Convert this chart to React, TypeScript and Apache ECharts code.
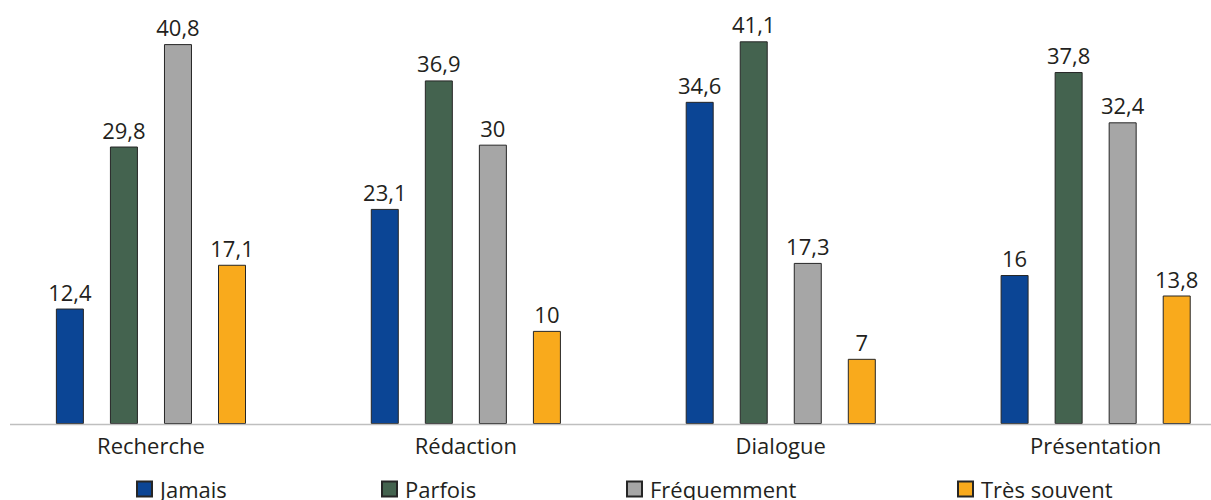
import React, { useEffect, useRef } from "react";
import * as echarts from "echarts";

const categories = ["Recherche", "Rédaction", "Dialogue", "Présentation"];
const seriesNames = ["Jamais", "Parfois", "Fréquemment", "Très souvent"];
const jamais = [12.4, 23.1, 34.6, 16];
const parfois = [29.8, 36.9, 41.1, 37.8];
const frequemment = [40.8, 30, 17.3, 32.4];
const tresSouvent = [17.1, 10, 7, 13.8];
const colors = ["#0b4595", "#44634f", "#a6a6a6", "#f9aa1c"];
const legendLefts = [136, 381, 626, 957];

const FONT = "'Open Sans', 'Noto Sans', sans-serif";
const TEXT = "#231f20";

export default function App() {
  const ref = useRef<HTMLDivElement>(null);
  useEffect(() => {
    if (!ref.current) return;
    const chart = echarts.init(ref.current, null, { renderer: "svg" });
    const data = [jamais, parfois, frequemment, tresSouvent];
    chart.setOption({
      animation: false,
      textStyle: { fontFamily: FONT },
      grid: {
        left: -6.5,
        width: 1259.6,
        top: 5,
        bottom: 76,
        containLabel: false,
        outerBoundsMode: "none",
      },
      xAxis: {
        type: "category",
        data: categories,
        axisLine: { show: false },
        axisTick: { show: false },
        axisLabel: { color: TEXT, fontSize: 22, fontFamily: FONT, margin: 10 },
      },
      yAxis: {
        type: "value",
        min: 0,
        max: 45,
        show: false,
        splitLine: { show: false },
      },
      legend: seriesNames.map((n, i) => ({
        data: [n],
        left: legendLefts[i],
        top: 478,
        padding: 0,
        itemWidth: 15,
        itemHeight: 15,
        itemGap: 0,
        icon: "rect",
        textStyle: { color: TEXT, fontSize: 22, fontFamily: FONT, padding: [0, 0, 0, 3] },
      })),
      graphic: [
        {
          type: "line",
          shape: { x1: 10, y1: 424.5, x2: 1211, y2: 424.5 },
          style: { stroke: "#bfbfbf", lineWidth: 1.5 },
          z: 10,
        },
      ],
      series: seriesNames.map((n, i) => ({
        name: n,
        type: "bar",
        data: data[i],
        barWidth: 28,
        barGap: "93%",
        itemStyle: { color: colors[i], borderColor: "#262626", borderWidth: 1 },
        label: {
          show: true,
          position: "top",
          distance: 6,
          color: TEXT,
          fontSize: 22,
          fontFamily: FONT,
          formatter: (p: any) => String(p.value).replace(".", ","),
        },
      })),
    });
    return () => chart.dispose();
  }, []);
  return <div ref={ref} style={{ width: 1211, height: 500, position: "absolute", left: 0, top: 0 }} />;
}
